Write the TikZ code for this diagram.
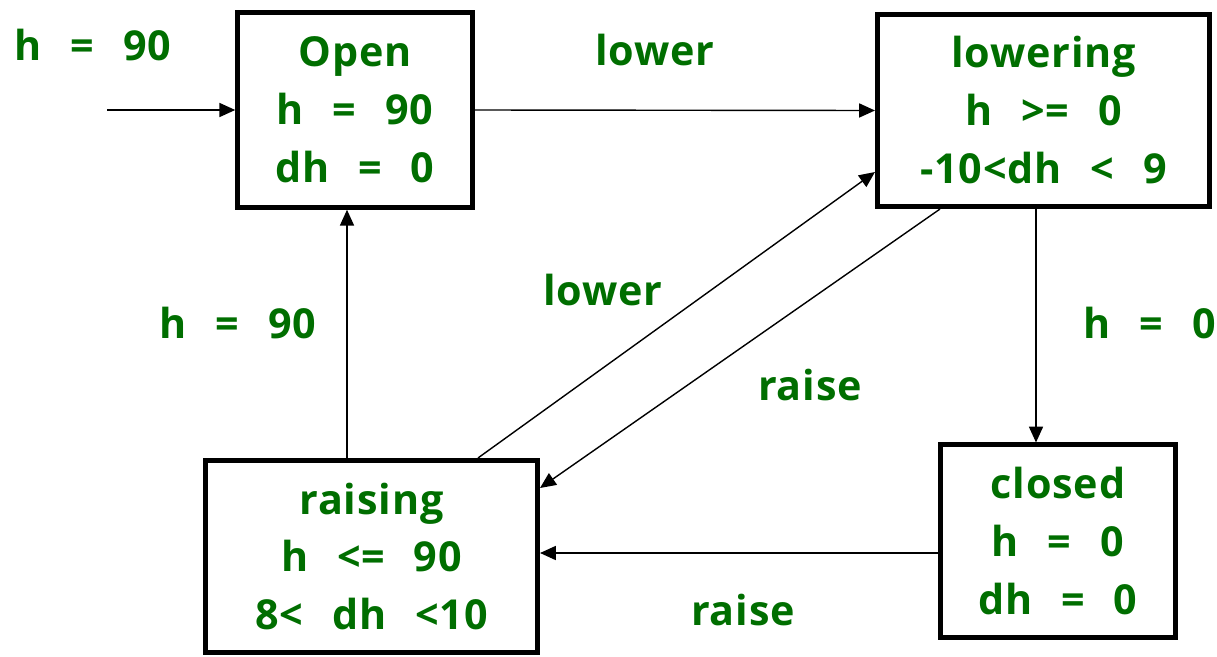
\documentclass[tikz,border=0pt]{standalone}
\usepackage{fontspec}
\setmainfont{Open Sans}[WordSpace=2.5, LetterSpace=2]
\usetikzlibrary{arrows.meta}

\definecolor{lblgreen}{RGB}{0,110,0}

\tikzset{
	state/.style={draw, line width=2.6pt, align=center, inner sep=0pt,
		font=\fontsize{23.5}{33}\selectfont\bfseries, text=lblgreen},
	lbl/.style={font=\fontsize{23.5}{33}\selectfont\bfseries, text=lblgreen},
	trans/.style={-{Triangle[length=9pt,width=8pt]}, line width=0.8pt},
}

\begin{document}
\begin{tikzpicture}
	\useasboundingbox (0,0) rectangle (24.34,13.12);

	% the four states
	\node[state, minimum width=4.7cm, minimum height=3.9cm] (open) at (7.1,10.92) {Open\\h = 90\\dh = 0};
	\node[state, minimum width=6.65cm, minimum height=3.85cm] (lowering) at (20.87,10.91) {lowering\\h >= 0\\-10<dh < 9};
	\node[state, minimum width=6.65cm, minimum height=3.85cm] (raising) at (7.43,1.99) {raising\\h <= 90\\8< dh <10};
	\node[state, minimum width=4.7cm, minimum height=3.85cm] (closed) at (21.16,2.3) {closed\\h = 0\\dh = 0};

	% initial transition
	\coordinate (init) at ([xshift=-2.56cm]open.west);
	\draw[trans] (init) -- (open.west);
	\node[lbl] (initlbl) at (1.86,12.22) {h = 90};

	% transitions
	\draw[trans] (open.east) -- (lowering.west);
	\draw[trans] ([xshift=2.13cm]raising.north) -- ([yshift=-1.23cm]lowering.west);
	\draw[trans] ([xshift=-2.07cm]lowering.south) -- ([yshift=1.37cm]raising.east);
	\draw[trans] ([xshift=-0.15cm]lowering.south) -- ([xshift=-0.15cm]lowering.south |- closed.north);
	\draw[trans] ([yshift=-0.24cm]closed.west) -- ([yshift=-0.24cm]closed.west -| raising.east);
	\draw[trans] ([xshift=-0.49cm]raising.north) -- ([xshift=-0.49cm]raising.north |- open.south);

	% labels
	\node[lbl] (lowertop) at (13.1,12.12) {lower};
	\node[lbl] (lowerdiag) at (12.06,7.32) {lower};
	\node[lbl] (raisediag) at (16.2,5.42) {raise};
	\node[lbl] (hzero) at (23.0,6.66) {h = 0};
	\node[lbl] (hninety) at (4.76,6.66) {h = 90};
	\node[lbl] (raisebot) at (14.86,0.92) {raise};
\end{tikzpicture}
\end{document}
